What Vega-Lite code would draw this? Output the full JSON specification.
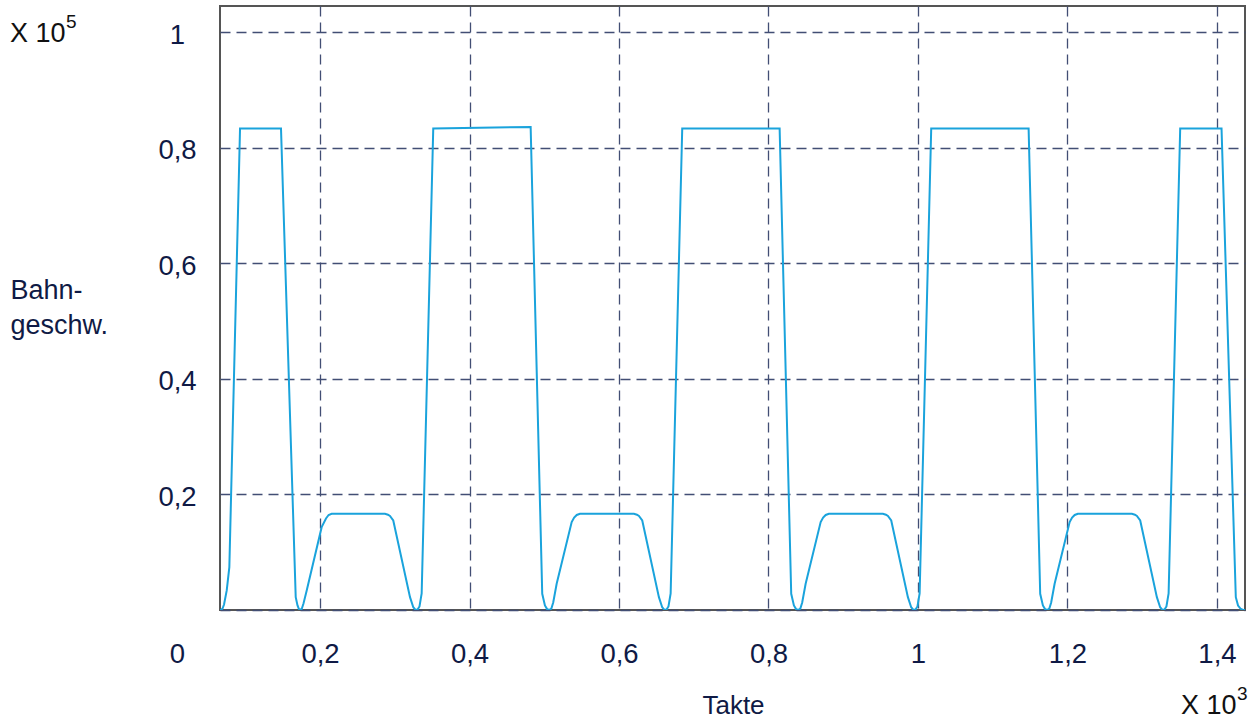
{
  "$schema": "https://vega.github.io/schema/vega-lite/v6.json",
  "width": 1025,
  "height": 604,
  "autosize": {"type": "none"},
  "padding": {"left": 220, "top": 6, "right": 12, "bottom": 110},
  "background": "white",
  "config": {
    "view": {"stroke": "#555555", "strokeWidth": 2},
    "font": "Liberation Sans"
  },
  "encoding": {
    "x": {
      "field": "takte",
      "type": "quantitative",
      "scale": {"domain": [66.2, 1437.5], "nice": false, "zero": false},
      "axis": {
        "values": [200, 400, 600, 800, 1000, 1200, 1400],
        "labelExpr": "replace(format(datum.value / 1000, '.1~f'), '.', ',')",
        "domain": false,
        "ticks": false,
        "tickSize": 0,
        "labelPadding": 52,
        "labelBaseline": "alphabetic",
        "labelAlign": "center",
        "labelFlush": false,
        "labelOverlap": false,
        "labelFontSize": 27.5,
        "labelColor": "#0f1a45",
        "grid": true,
        "gridDash": [10, 6],
        "gridColor": "#424e74",
        "gridWidth": 1.3,
        "title": "Takte",
        "titleX": 513,
        "titleY": 103,
        "titleAlign": "center",
        "titleAnchor": null,
        "titleBaseline": "alphabetic",
        "titleFontSize": 26,
        "titleFontWeight": "normal",
        "titleColor": "#0f1a45"
      }
    },
    "y": {
      "field": "geschw",
      "type": "quantitative",
      "scale": {"domain": [0, 104550], "nice": false, "zero": false},
      "axis": {
        "values": [0, 20000, 40000, 60000, 80000, 100000],
        "labelExpr": "replace(format(datum.value / 100000, '.1~f'), '.', ',')",
        "domain": false,
        "ticks": false,
        "tickSize": 0,
        "labelPadding": 43,
        "labelAlign": "center",
        "labelBaseline": "alphabetic",
        "labelOffset": {"condition": {"test": "datum.value === 0", "value": 52}, "value": 11},
        "labelFlush": false,
        "labelOverlap": false,
        "labelFontSize": 27.5,
        "labelColor": "#0f1a45",
        "grid": true,
        "gridDash": [10, 6],
        "gridColor": "#424e74",
        "gridWidth": 1.3,
        "title": ["Bahn-", "geschw."],
        "titleAngle": 0,
        "titleX": -210,
        "titleY": 292,
        "titleAlign": "left",
        "titleAnchor": null,
        "titleBaseline": "alphabetic",
        "titleLineHeight": 35,
        "titleFontSize": 27,
        "titleFontWeight": "normal",
        "titleColor": "#0f1a45"
      }
    }
  },
  "layer": [
    {
      "data": {
        "values": [
          {"takte": 66.2, "geschw": 0},
          {"takte": 67.5, "geschw": 0},
          {"takte": 69.6, "geschw": 260},
          {"takte": 71.6, "geschw": 950},
          {"takte": 75.2, "geschw": 3380},
          {"takte": 78.7, "geschw": 7410},
          {"takte": 93.0, "geschw": 83340},
          {"takte": 147.8, "geschw": 83340},
          {"takte": 167.5, "geschw": 2220},
          {"takte": 169.9, "geschw": 780},
          {"takte": 172.3, "geschw": 0},
          {"takte": 175.5, "geschw": 170},
          {"takte": 177.9, "geschw": 1130},
          {"takte": 182.2, "geschw": 3380},
          {"takte": 202.2, "geschw": 14340},
          {"takte": 208.0, "geschw": 15850},
          {"takte": 211.5, "geschw": 16450},
          {"takte": 215.6, "geschw": 16660},
          {"takte": 286.9, "geschw": 16660},
          {"takte": 290.9, "geschw": 16500},
          {"takte": 293.6, "geschw": 16280},
          {"takte": 298.0, "geschw": 15500},
          {"takte": 320.4, "geschw": 2220},
          {"takte": 324.8, "geschw": 480},
          {"takte": 327.5, "geschw": 80},
          {"takte": 330.1, "geschw": 0},
          {"takte": 333.1, "geschw": 610},
          {"takte": 336.0, "geschw": 2860},
          {"takte": 351.5, "geschw": 83340},
          {"takte": 481.8, "geschw": 83620},
          {"takte": 497.3, "geschw": 2810},
          {"takte": 500.9, "geschw": 780},
          {"takte": 503.8, "geschw": 150},
          {"takte": 506.7, "geschw": 0},
          {"takte": 509.5, "geschw": 250},
          {"takte": 512.0, "geschw": 1300},
          {"takte": 516.6, "geschw": 4540},
          {"takte": 536.7, "geschw": 15210},
          {"takte": 540.0, "geschw": 16000},
          {"takte": 543.5, "geschw": 16450},
          {"takte": 547.7, "geschw": 16660},
          {"takte": 620.0, "geschw": 16660},
          {"takte": 624.0, "geschw": 16500},
          {"takte": 626.7, "geschw": 16280},
          {"takte": 631.1, "geschw": 15500},
          {"takte": 653.4, "geschw": 2220},
          {"takte": 657.8, "geschw": 480},
          {"takte": 660.5, "geschw": 80},
          {"takte": 663.2, "geschw": 0},
          {"takte": 666.2, "geschw": 610},
          {"takte": 669.1, "geschw": 2860},
          {"takte": 684.6, "geschw": 83340},
          {"takte": 814.9, "geschw": 83340},
          {"takte": 830.4, "geschw": 2810},
          {"takte": 834.0, "geschw": 780},
          {"takte": 836.9, "geschw": 150},
          {"takte": 839.8, "geschw": 0},
          {"takte": 842.6, "geschw": 250},
          {"takte": 845.1, "geschw": 1300},
          {"takte": 849.7, "geschw": 4540},
          {"takte": 869.8, "geschw": 15210},
          {"takte": 873.1, "geschw": 16000},
          {"takte": 876.6, "geschw": 16450},
          {"takte": 880.8, "geschw": 16660},
          {"takte": 953.1, "geschw": 16660},
          {"takte": 957.1, "geschw": 16500},
          {"takte": 959.8, "geschw": 16280},
          {"takte": 964.2, "geschw": 15500},
          {"takte": 986.5, "geschw": 2220},
          {"takte": 990.9, "geschw": 480},
          {"takte": 993.6, "geschw": 80},
          {"takte": 996.3, "geschw": 0},
          {"takte": 999.3, "geschw": 610},
          {"takte": 1002.2, "geschw": 2860},
          {"takte": 1017.7, "geschw": 83340},
          {"takte": 1148.0, "geschw": 83340},
          {"takte": 1163.5, "geschw": 2810},
          {"takte": 1167.1, "geschw": 780},
          {"takte": 1170.0, "geschw": 150},
          {"takte": 1172.9, "geschw": 0},
          {"takte": 1175.7, "geschw": 250},
          {"takte": 1178.2, "geschw": 1300},
          {"takte": 1182.8, "geschw": 4540},
          {"takte": 1202.9, "geschw": 15210},
          {"takte": 1206.2, "geschw": 16000},
          {"takte": 1209.7, "geschw": 16450},
          {"takte": 1213.9, "geschw": 16660},
          {"takte": 1286.2, "geschw": 16660},
          {"takte": 1290.2, "geschw": 16500},
          {"takte": 1292.9, "geschw": 16280},
          {"takte": 1297.3, "geschw": 15500},
          {"takte": 1319.6, "geschw": 2220},
          {"takte": 1324.0, "geschw": 480},
          {"takte": 1326.7, "geschw": 80},
          {"takte": 1329.4, "geschw": 0},
          {"takte": 1332.4, "geschw": 610},
          {"takte": 1335.3, "geschw": 2860},
          {"takte": 1350.8, "geschw": 83340},
          {"takte": 1406.1, "geschw": 83340},
          {"takte": 1425.2, "geschw": 2220},
          {"takte": 1428.2, "geschw": 780},
          {"takte": 1431.9, "geschw": 170},
          {"takte": 1435.0, "geschw": 0},
          {"takte": 1437.5, "geschw": 0}
        ]
      },
      "mark": {"type": "line", "color": "#1aa3dc", "strokeWidth": 2, "clip": true}
    },
    {
      "data": {
        "values": [
          {"takte": -214.7, "geschw": 98320, "label": "X 10"},
          {"takte": 1352, "geschw": -18000, "label": "X 10"}
        ]
      },
      "mark": {"type": "text", "align": "left", "baseline": "alphabetic", "fontSize": 27, "color": "#111111"},
      "encoding": {"text": {"field": "label"}}
    },
    {
      "data": {
        "values": [
          {"takte": -214.7, "geschw": 98320, "label": "5"},
          {"takte": 1352, "geschw": -18000, "label": "3"}
        ]
      },
      "mark": {"type": "text", "align": "left", "baseline": "alphabetic", "fontSize": 19, "dx": 56, "dy": -14, "color": "#111111"},
      "encoding": {"text": {"field": "label"}}
    }
  ]
}
